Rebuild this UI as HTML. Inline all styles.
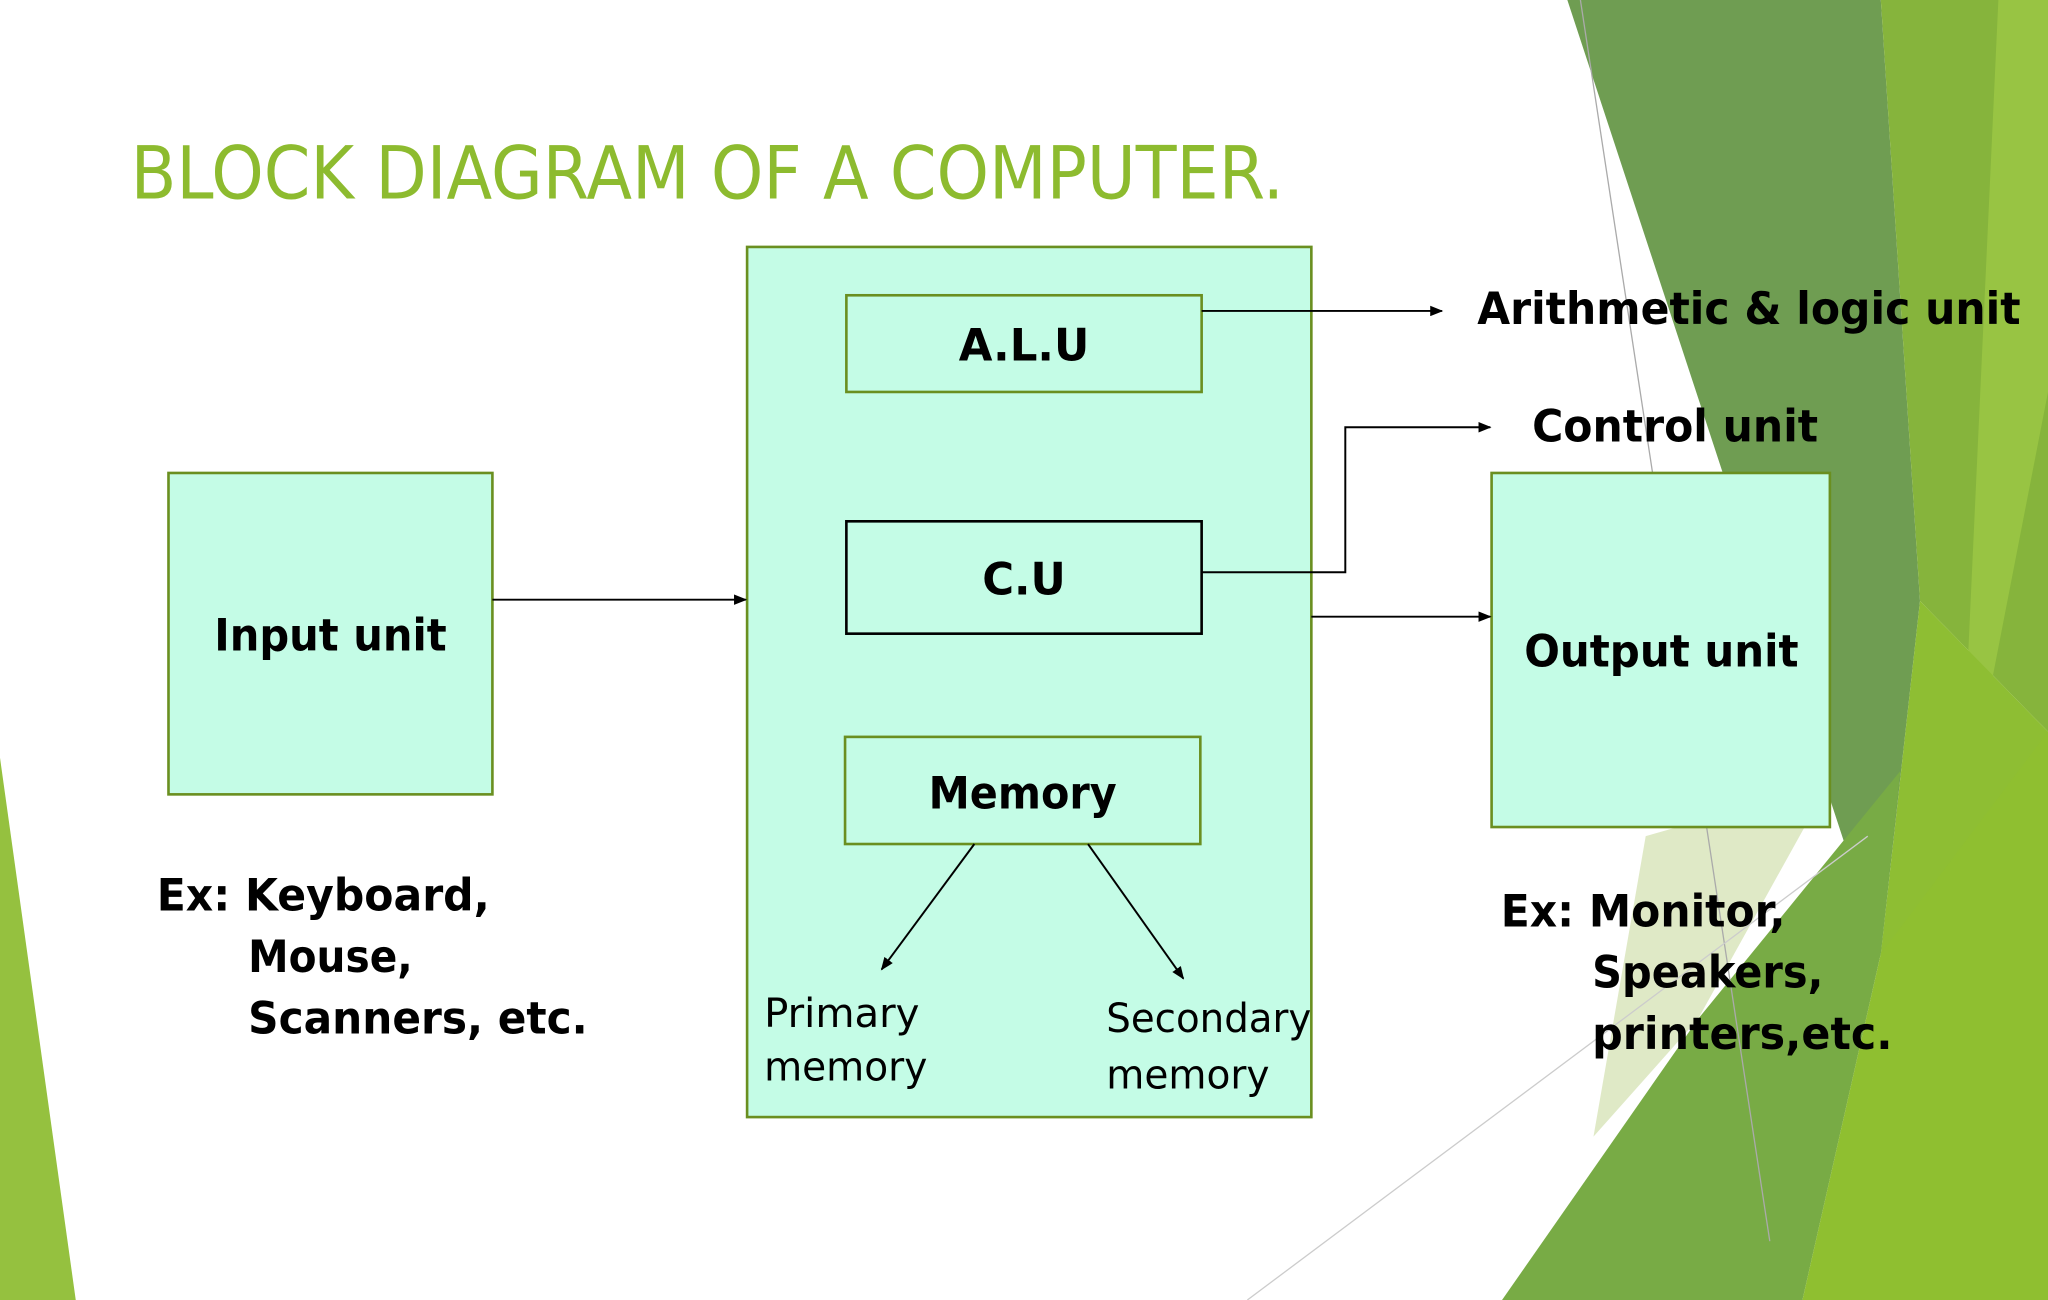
<!DOCTYPE html>
<html><head><meta charset="utf-8"><style>
html,body{margin:0;padding:0;background:#fff;}
svg{display:block;}
text{font-family:"DejaVu Sans","Liberation Sans",sans-serif;}
</style></head><body>
<svg width="2048" height="1300" viewBox="0 0 1568 995" preserveAspectRatio="none" xmlns="http://www.w3.org/2000/svg">
<defs><marker id="a" markerWidth="10" markerHeight="8" refX="9" refY="4" orient="auto" markerUnits="userSpaceOnUse"><path d="M0,0 L10,4 L0,8 z" fill="#000"/></marker></defs>
<rect width="1568" height="995" fill="#fff"/>
<!-- background decor -->
<polygon points="1200,0 1440,0 1470,460 1440,730" fill="#6f9d52"/>
<polygon points="1440,0 1568,0 1568,560 1470,460" fill="#86b43c"/>
<polygon points="1530,0 1568,0 1568,300 1500,650" fill="#98c443"/>
<polygon points="1260,640 1400,600 1300,780 1220,870" fill="#dfe9c6"/>
<polygon points="1470,460 1568,560 1568,995 1400,995 1440,730" fill="#8ebe33"/>
<polygon points="1150,995 1300,780 1455,590 1440,730 1380,995" fill="#78ab45"/>
<polygon points="1380,995 1440,730 1568,560 1568,995" fill="#8fbf30"/>
<line x1="1210" y1="0" x2="1355" y2="950" stroke="#aaa" stroke-width="1"/>
<line x1="955" y1="995" x2="1430" y2="640" stroke="#ccc" stroke-width="1"/>
<polygon points="0,580 0,995 58,995" fill="#95c13f"/>
<!-- title -->
<text x="100" y="152" font-size="56" fill="#8dbb2f" textLength="883" lengthAdjust="spacingAndGlyphs">BLOCK DIAGRAM OF A COMPUTER.</text>
<!-- boxes -->
<rect x="129" y="362" width="248" height="246" fill="#c4fce6" stroke="#6a8f20" stroke-width="2"/>
<text x="164" y="498" font-size="34" font-weight="bold" textLength="178" lengthAdjust="spacingAndGlyphs">Input unit</text>
<rect x="572" y="189" width="432" height="666" fill="#c4fce6" stroke="#6a8f20" stroke-width="2"/>
<rect x="648" y="226" width="272" height="74" fill="#c4fce6" stroke="#6a8f20" stroke-width="2"/>
<text x="734" y="276" font-size="34" font-weight="bold" textLength="100" lengthAdjust="spacingAndGlyphs">A.L.U</text>
<rect x="648" y="399" width="272" height="86" fill="#c4fce6" stroke="#000" stroke-width="2"/>
<text x="752" y="455" font-size="34" font-weight="bold" textLength="64" lengthAdjust="spacingAndGlyphs">C.U</text>
<rect x="647" y="564" width="272" height="82" fill="#c4fce6" stroke="#6a8f20" stroke-width="2"/>
<text x="711" y="619" font-size="34" font-weight="bold" textLength="144" lengthAdjust="spacingAndGlyphs">Memory</text>
<text x="585" y="786" font-size="31" textLength="119" lengthAdjust="spacingAndGlyphs">Primary</text>
<text x="585" y="827" font-size="31" textLength="125" lengthAdjust="spacingAndGlyphs">memory</text>
<text x="847" y="790" font-size="31" textLength="157" lengthAdjust="spacingAndGlyphs">Secondary</text>
<text x="847" y="833" font-size="31" textLength="125" lengthAdjust="spacingAndGlyphs">memory</text>
<rect x="1142" y="362" width="259" height="271" fill="#c4fce6" stroke="#6a8f20" stroke-width="2"/>
<text x="1167" y="510" font-size="34" font-weight="bold" textLength="210" lengthAdjust="spacingAndGlyphs">Output unit</text>
<!-- connectors -->
<g stroke="#000" stroke-width="1.5" fill="none">
<line x1="377" y1="459" x2="571" y2="459" marker-end="url(#a)"/>
<line x1="920" y1="238" x2="1104" y2="238" marker-end="url(#a)"/>
<polyline points="920,438 1030,438 1030,327 1141,327" marker-end="url(#a)"/>
<line x1="1004" y1="472" x2="1141" y2="472" marker-end="url(#a)"/>
<line x1="746" y1="646" x2="675" y2="742" marker-end="url(#a)"/>
<line x1="833" y1="646" x2="906" y2="749" marker-end="url(#a)"/>
</g>
<!-- labels -->
<text x="1131" y="248" font-size="34" font-weight="bold" textLength="416" lengthAdjust="spacingAndGlyphs">Arithmetic &amp; logic unit</text>
<text x="1173" y="338" font-size="34" font-weight="bold" textLength="219" lengthAdjust="spacingAndGlyphs">Control unit</text>
<text x="120" y="697" font-size="34" font-weight="bold" textLength="255" lengthAdjust="spacingAndGlyphs">Ex: Keyboard,</text>
<text x="190" y="744" font-size="34" font-weight="bold" textLength="126" lengthAdjust="spacingAndGlyphs">Mouse,</text>
<text x="190" y="791" font-size="34" font-weight="bold" textLength="260" lengthAdjust="spacingAndGlyphs">Scanners, etc.</text>
<text x="1149" y="709" font-size="34" font-weight="bold" textLength="218" lengthAdjust="spacingAndGlyphs">Ex: Monitor,</text>
<text x="1219" y="756" font-size="34" font-weight="bold" textLength="177" lengthAdjust="spacingAndGlyphs">Speakers,</text>
<text x="1219" y="803" font-size="34" font-weight="bold" textLength="230" lengthAdjust="spacingAndGlyphs">printers,etc.</text>
</svg>
</body></html>
